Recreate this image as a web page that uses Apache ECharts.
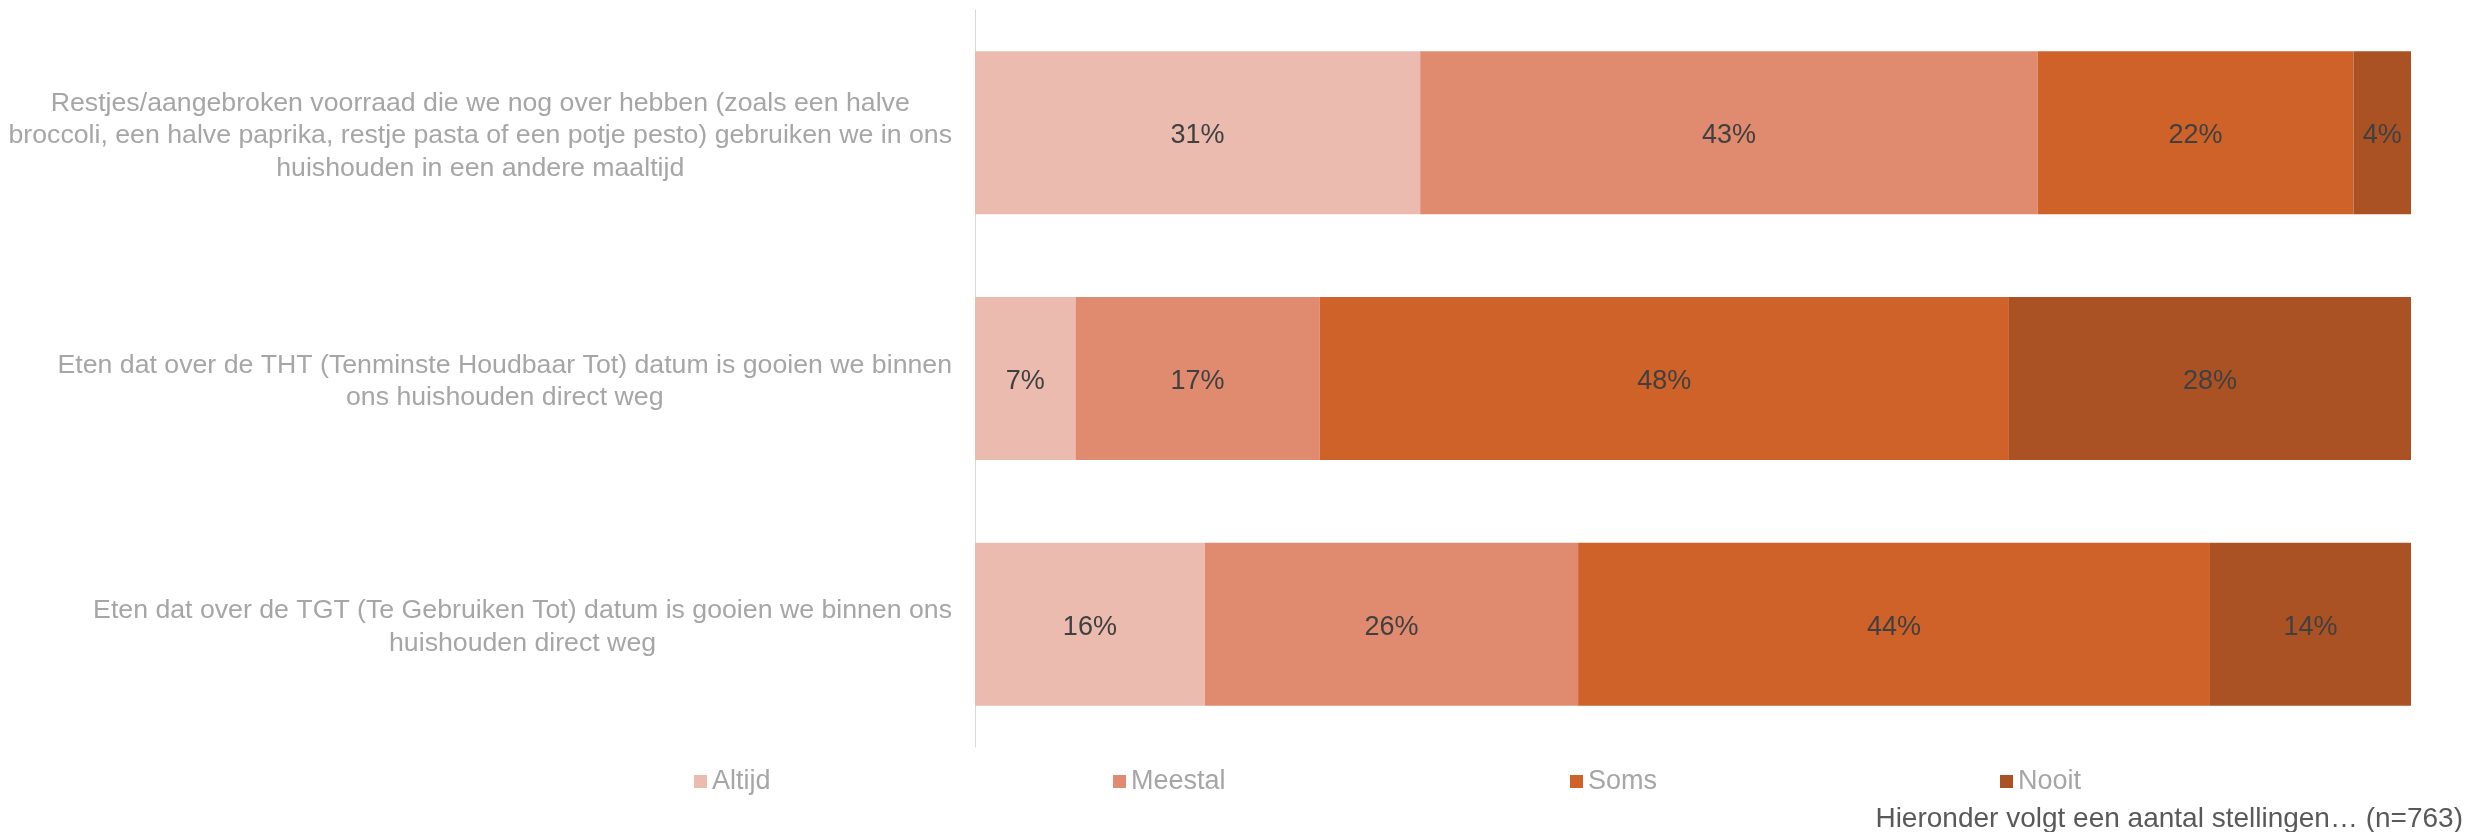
<!DOCTYPE html>
<html>
<head>
<meta charset="utf-8">
<script src="https://cdn.jsdelivr.net/npm/echarts@6/dist/echarts.min.js"></script>
<style>
html,body{margin:0;padding:0;background:#fff;}
#chart{width:2471px;height:832px;}
</style>
</head>
<body>
<div id="chart"></div>
<script>
const categories = [
  "Restjes/aangebroken voorraad die we nog over hebben (zoals een halve\nbroccoli, een halve paprika, restje pasta of een potje pesto) gebruiken we in ons\nhuishouden in een andere maaltijd",
  "Eten dat over de THT (Tenminste Houdbaar Tot) datum is gooien we binnen\nons huishouden direct weg",
  "Eten dat over de TGT (Te Gebruiken Tot) datum is gooien we binnen ons\nhuishouden direct weg"
];
const seriesNames = ["Altijd", "Meestal", "Soms", "Nooit"];
const altijd = [31, 7, 16];
const meestal = [43, 17, 26];
const soms = [22, 48, 44];
const nooit = [4, 28, 14];
const footnote = "Hieronder volgt een aantal stellingen… (n=763)";

const values = [altijd, meestal, soms, nooit];
const colors = ["#EBBBB0", "#E08B6F", "#CF6229", "#AB5224"];
const legendLeft = [689, 1108, 1565, 1995];
const font = "Liberation Sans, Arial, sans-serif";

const chart = echarts.init(document.getElementById('chart'));
chart.setOption({
  backgroundColor: '#fff',
  animation: false,
  grid: { left: 975, right: 60, top: 10, bottom: 85, containLabel: false, outerBoundsMode: 'none' },
  xAxis: { type: 'value', min: 0, max: 100, show: false },
  yAxis: {
    type: 'category',
    inverse: true,
    data: categories,
    axisLine: { show: true, lineStyle: { color: '#D9D9D9', width: 1 } },
    axisTick: { show: false },
    axisLabel: {
      margin: 23,
      padding: [6, 0, 0, 0],
      formatter: function (v) { return '{a|' + v + '}'; },
      rich: { a: { align: 'center', fontSize: 26.7, lineHeight: 32.5, color: '#A6A6A6', fontFamily: font } }
    }
  },
  legend: seriesNames.map((n, i) => ({
    data: [n],
    left: legendLeft[i],
    top: 763,
    icon: 'rect',
    itemWidth: 13,
    itemHeight: 13,
    textStyle: { color: '#A6A6A6', fontSize: 27, fontFamily: font, padding: [0, 0, 0, 0] }
  })),
  title: {
    text: footnote,
    right: 3,
    top: 800,
    textStyle: { color: '#595959', fontSize: 28, fontWeight: 'normal', fontFamily: font }
  },
  series: seriesNames.map((n, i) => ({
    name: n,
    type: 'bar',
    stack: 'total',
    data: values[i],
    barWidth: 163,
    itemStyle: { color: colors[i] },
    label: {
      show: true,
      position: 'inside',
      offset: [0, 3],
      formatter: '{c}%',
      color: '#404040',
      fontSize: 27,
      fontFamily: font
    }
  }))
});
</script>
</body>
</html>
